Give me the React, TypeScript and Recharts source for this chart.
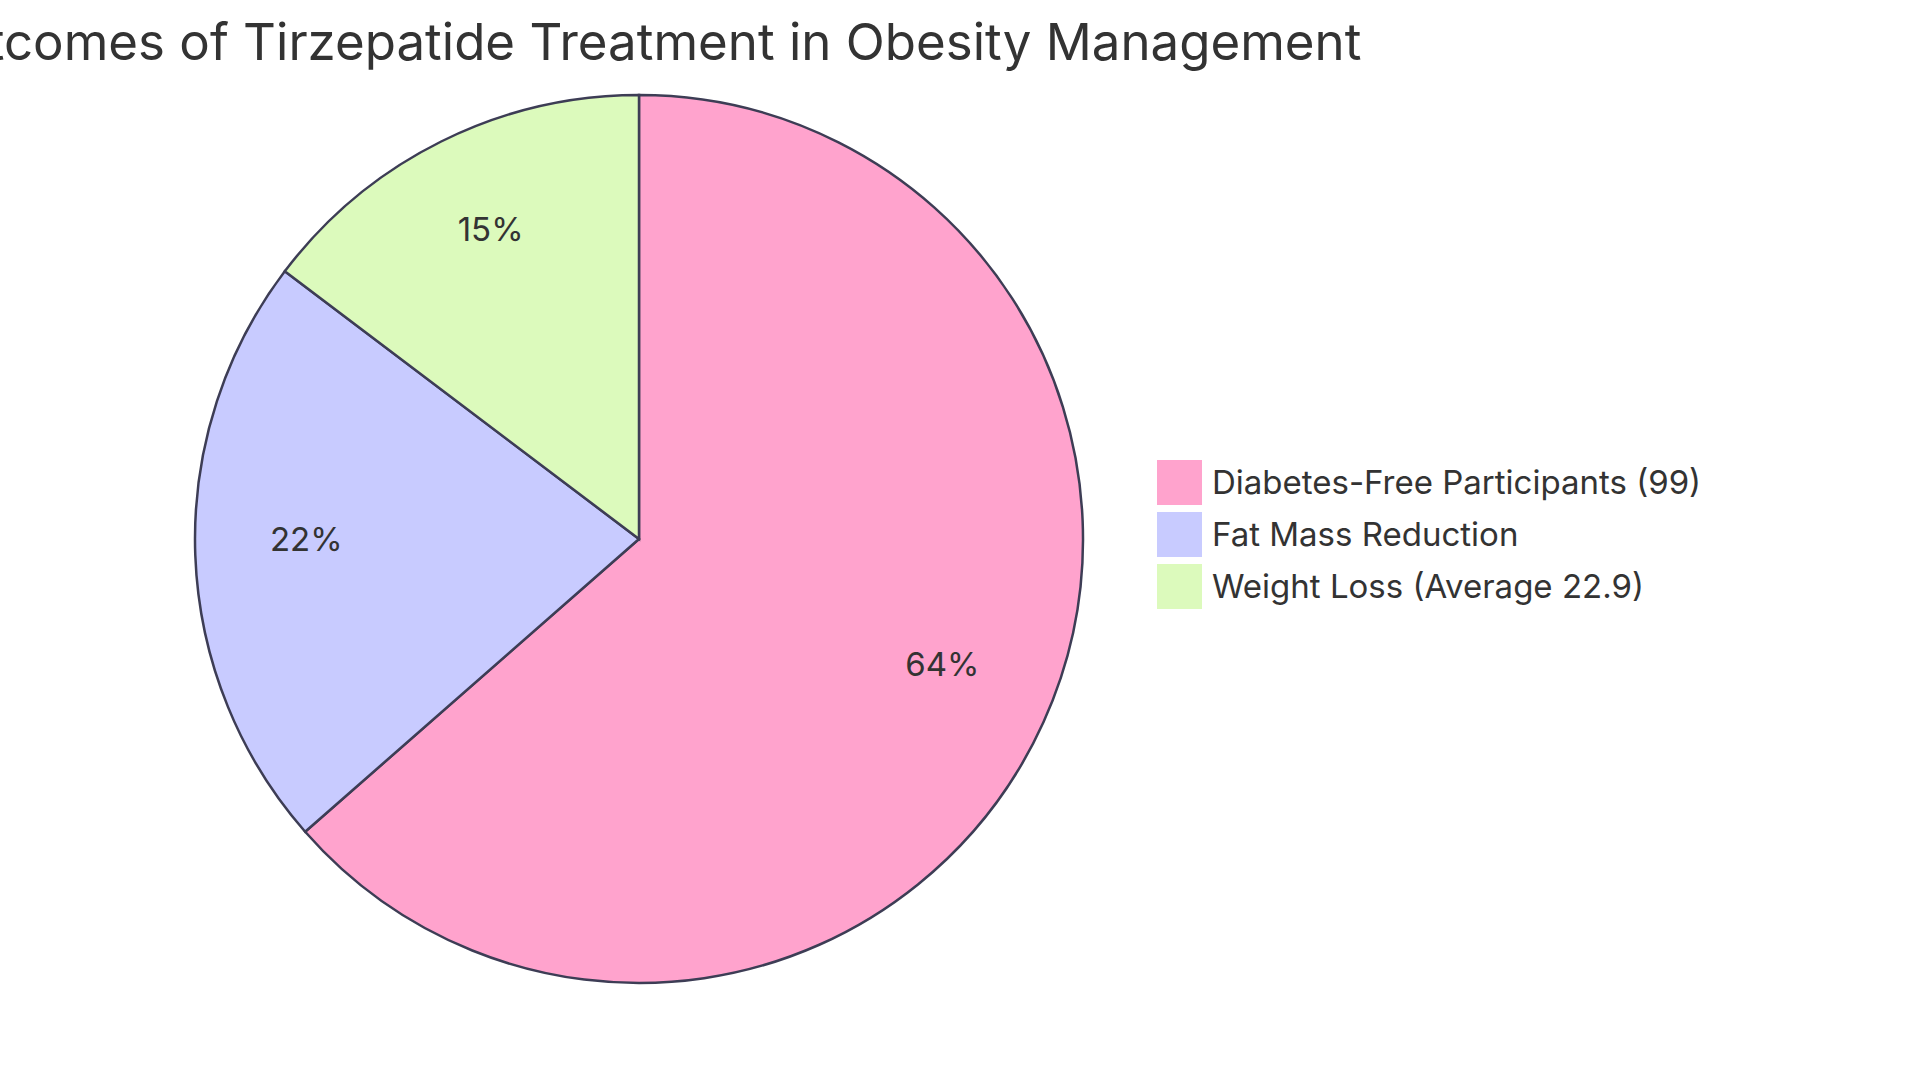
import { Legend, Pie, PieChart, Cell } from "recharts";

const categories = [
  "Diabetes-Free Participants (99)",
  "Fat Mass Reduction",
  "Weight Loss (Average 22.9)",
];
const values = [99, 33.9, 22.9];
const colors = ["#ffa3cd", "#c8cbff", "#dcfabc"];
const title = "Outcomes of Tirzepatide Treatment in Obesity Management";

const data = categories.map((name, i) => ({ name, value: values[i] }));

const FONT = "Inter, 'Noto Sans', sans-serif";
const RADIAN = Math.PI / 180;

// percent text sits with its baseline on the slice centroid (0.75 r)
function renderLabel(props: any) {
  const { cx, cy, midAngle, outerRadius, percent } = props;
  const r = outerRadius * 0.75;
  const x = cx + r * Math.cos(-midAngle * RADIAN);
  const y = cy + r * Math.sin(-midAngle * RADIAN);
  return (
    <text x={x} y={y} fill="#333" fontSize={33} fontFamily={FONT} textAnchor="middle">
      {`${Math.round(percent * 100)}%`}
    </text>
  );
}

function LegendContent({ payload }: any) {
  // swatch colours come from our own palette, keyed by category
  return (
    <div>
      {(payload || []).map((p: any) => {
        const i = categories.indexOf(p.value);
        return (
          <div key={p.value} style={{ display: "flex", alignItems: "center", height: 52 }}>
            <div style={{ width: 45, height: 45, background: colors[i], marginRight: 10 }} />
            <span style={{ fontFamily: FONT, fontSize: 33, color: "#333", lineHeight: "45px" }}>
              {p.value}
            </span>
          </div>
        );
      })}
    </div>
  );
}

export default function App() {
  return (
    <div style={{ position: "fixed", left: 0, top: 0, width: 1920, height: 1083, background: "#fff" }}>
      <svg width={1920} height={100} style={{ position: "absolute", left: 0, top: 0 }}>
        <text x={640} y={60} textAnchor="middle" fontSize={51} fontFamily={FONT} fill="#333">
          {title}
        </text>
      </svg>
      <div style={{ position: "absolute", left: 0, top: 0 }}>
        <PieChart width={1920} height={1083} margin={{ top: 0, right: 0, bottom: 0, left: 0 }}>
          <Pie
            data={data}
            dataKey="value"
            nameKey="name"
            cx={639}
            cy={539}
            outerRadius={444}
            startAngle={90}
            endAngle={-270}
            stroke="#3d3d55"
            strokeWidth={2.5}
            label={renderLabel}
            labelLine={false}
            isAnimationActive={false}
          >
            {data.map((d, i) => (
              <Cell key={d.name} fill={colors[i]} />
            ))}
          </Pie>
          <Legend
            layout="vertical"
            verticalAlign="middle"
            align="right"
            content={<LegendContent />}
            wrapperStyle={{ left: 1157, top: 456, width: 700 }}
          />
        </PieChart>
      </div>
    </div>
  );
}
